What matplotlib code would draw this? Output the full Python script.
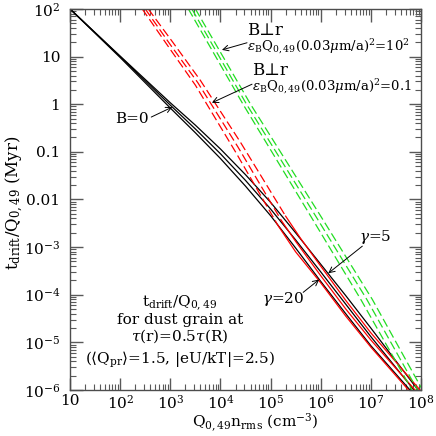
import numpy as np
import matplotlib
matplotlib.use('Agg')
import matplotlib.pyplot as plt
from matplotlib.ticker import FixedLocator, FixedFormatter, LogLocator, NullFormatter

plt.rcParams['font.family'] = ['DejaVu Serif', 'DejaVu Sans']
plt.rcParams['mathtext.fontset'] = 'dejavuserif'

# curves, as log10(x), log10(y)
# B = 0
black1_lx = [1.0, 2.0, 3.0, 3.5, 4.0, 4.5, 5.0, 5.5, 6.0, 6.5, 7.0, 7.78]
black1_ly = [2.0, 0.98, -0.08, -0.60, -1.14, -1.72, -2.34, -3.02, -3.72, -4.40, -5.07, -6.0]
black2_lx = [1.0, 2.0, 3.0, 3.5, 4.0, 4.5, 5.0, 5.5, 6.0, 6.5, 7.0, 7.86]
black2_ly = [2.0, 1.00, -0.02, -0.52, -1.04, -1.60, -2.20, -2.85, -3.52, -4.20, -4.88, -6.0]
black3_lx = [1.0, 2.0, 3.0, 3.5, 4.0, 4.5, 5.0, 5.5, 6.0, 6.5, 7.0, 7.94]
black3_ly = [2.0, 1.01, 0.03, -0.44, -0.94, -1.48, -2.06, -2.70, -3.36, -4.02, -4.70, -6.0]

# B perp r, eps=0.1 : dashed upper part, solid lower part
red1_dash_lx = [2.44, 3.0, 3.5, 4.3, 5.15]
red1_dash_ly = [2.0, 1.15, 0.40, -1.00, -2.55]
red1_sol_lx = [5.15, 5.5, 6.0, 6.5, 7.0, 7.75]
red1_sol_ly = [-2.55, -3.10, -3.75, -4.45, -5.10, -6.0]
red2_dash_lx = [2.50, 3.0, 3.55, 4.35, 5.22]
red2_dash_ly = [2.0, 1.25, 0.45, -0.90, -2.45]
red2_sol_lx = [5.22, 5.5, 6.0, 6.5, 7.0, 7.88]
red2_sol_ly = [-2.45, -2.88, -3.60, -4.30, -4.95, -6.0]
red3_dash_lx = [2.56, 3.05, 3.6, 4.4, 5.3]
red3_dash_ly = [2.0, 1.30, 0.50, -0.80, -2.35]
red3_sol_lx = [5.3, 5.6, 6.0, 6.5, 7.0, 7.98]
red3_sol_ly = [-2.35, -2.82, -3.40, -4.12, -4.80, -6.0]

# B perp r, eps=1e2
green1_lx = [3.36, 4.45, 5.8, 6.8, 7.82]
green1_ly = [2.0, 0.0, -2.35, -4.1, -6.0]
green2_lx = [3.43, 4.52, 5.9, 6.92, 7.93]
green2_ly = [2.0, 0.0, -2.35, -4.1, -6.0]
green3_lx = [3.50, 4.60, 6.0, 7.03, 8.03]
green3_ly = [2.0, 0.0, -2.35, -4.1, -6.0]

xtick_vals = [1e1, 1e2, 1e3, 1e4, 1e5, 1e6, 1e7, 1e8]
xtick_labs = ['10', '10$^2$', '10$^3$', '10$^4$', '10$^5$', '10$^6$', '10$^7$', '10$^8$']
ytick_vals = [1e-6, 1e-5, 1e-4, 1e-3, 1e-2, 1e-1, 1e0, 1e1, 1e2]
ytick_labs = ['10$^{-6}$', '10$^{-5}$', '10$^{-4}$', '10$^{-3}$', '0.01', '0.1', '1', '10', '10$^2$']


def P(lx, ly):
    return 10**np.array(lx), 10**np.array(ly)


fig = plt.figure(figsize=(4.36, 4.36), dpi=100)
ax = fig.add_axes([0.1606, 0.1055, 0.805, 0.874])
ax.set_xscale('log')
ax.set_yscale('log')

lw = 0.9
for lx, ly in [(black1_lx, black1_ly), (black2_lx, black2_ly), (black3_lx, black3_ly)]:
    ax.plot(*P(lx, ly), color='black', lw=lw)

for lx, ly in [(red1_dash_lx, red1_dash_ly), (red2_dash_lx, red2_dash_ly), (red3_dash_lx, red3_dash_ly)]:
    ax.plot(*P(lx, ly), color='red', lw=lw, dashes=(7, 3))
for lx, ly in [(red1_sol_lx, red1_sol_ly), (red2_sol_lx, red2_sol_ly), (red3_sol_lx, red3_sol_ly)]:
    ax.plot(*P(lx, ly), color='red', lw=lw)

for lx, ly in [(green1_lx, green1_ly), (green2_lx, green2_ly), (green3_lx, green3_ly)]:
    ax.plot(*P(lx, ly), color='#22dd22', lw=lw, dashes=(7, 3))

ax.set_xlim(1e1, 1e8)
ax.set_ylim(1e-6, 1e2)

ax.xaxis.set_major_locator(FixedLocator(xtick_vals))
ax.xaxis.set_major_formatter(FixedFormatter(xtick_labs))
ax.yaxis.set_major_locator(FixedLocator(ytick_vals))
ax.yaxis.set_major_formatter(FixedFormatter(ytick_labs))
ax.xaxis.set_minor_locator(LogLocator(base=10, subs=np.arange(2, 10), numticks=20))
ax.yaxis.set_minor_locator(LogLocator(base=10, subs=np.arange(2, 10), numticks=20))
ax.xaxis.set_minor_formatter(NullFormatter())
ax.yaxis.set_minor_formatter(NullFormatter())
ax.tick_params(which='both', direction='in', top=True, right=True, color='0.35', labelsize=11)
ax.tick_params(which='major', length=9, width=1.0, pad=7)
ax.tick_params(axis='x', which='major', pad=3)
ax.tick_params(which='minor', length=4.5, width=0.8)
for s in ax.spines.values():
    s.set_color('0.3')
    s.set_linewidth(1.0)

ax.set_xlabel(r'$\mathrm{Q_{0,49}n_{rms}}$ (cm$^{-3}$)', fontsize=11)
ax.set_ylabel(r'$\mathrm{t_{drift}/Q_{0,49}}$ (Myr)', fontsize=12)
ax.xaxis.set_label_coords(0.527, -0.056)
ax.yaxis.set_label_coords(-0.125, 0.49)

arr = dict(arrowstyle='->', color='black', lw=0.7, shrinkA=0, shrinkB=0)
ax.annotate('', xy=(10**3.04, 10**-0.06), xytext=(10**2.62, 10**-0.27), arrowprops=arr)
ax.text(10**2.24, 10**-0.31, 'B=0', fontsize=11, ha='center', va='center')

ax.annotate('', xy=(10**4.03, 10**1.14), xytext=(10**4.53, 10**1.29), arrowprops=arr)
ax.text(10**4.53, 10**1.54, 'B⊥r', fontsize=12, ha='left', va='center')
ax.text(10**4.53, 10**1.20, r'$\epsilon_{\rm B}$Q$_{0,49}$(0.03$\mu$m/a)$^2$=10$^2$',
        fontsize=9.5, ha='left', va='center')

ax.annotate('', xy=(10**3.83, 10**0.03), xytext=(10**4.63, 10**0.42), arrowprops=arr)
ax.text(10**4.63, 10**0.70, 'B⊥r', fontsize=12, ha='left', va='center')
ax.text(10**4.63, 10**0.36, r'$\epsilon_{\rm B}$Q$_{0,49}$(0.03$\mu$m/a)$^2$=0.1',
        fontsize=9.5, ha='left', va='center')

ax.annotate('', xy=(10**6.15, 10**-3.55), xytext=(10**6.83, 10**-2.98), arrowprops=arr)
ax.text(10**7.09, 10**-2.79, r'$\gamma$=5', fontsize=11, ha='center', va='center')
ax.annotate('', xy=(10**5.97, 10**-3.68), xytext=(10**5.65, 10**-3.95), arrowprops=arr)
ax.text(10**5.25, 10**-4.09, r'$\gamma$=20', fontsize=11, ha='center', va='center')

tx = 0.313
ax.text(tx, 0.228, r'$\mathrm{t_{drift}/Q_{0,49}}$', transform=ax.transAxes, fontsize=11, ha='center', va='center')
ax.text(tx, 0.184, 'for dust grain at', transform=ax.transAxes, fontsize=11, ha='center', va='center')
ax.text(tx, 0.142, r'$\tau$(r)=0.5$\tau$(R)', transform=ax.transAxes, fontsize=11, ha='center', va='center')
ax.text(tx, 0.080, r'($\langle$Q$_{\rm pr}\rangle$=1.5, |eU/kT|=2.5)', transform=ax.transAxes,
        fontsize=11, ha='center', va='center')

fig.savefig('out.png', dpi=100)
